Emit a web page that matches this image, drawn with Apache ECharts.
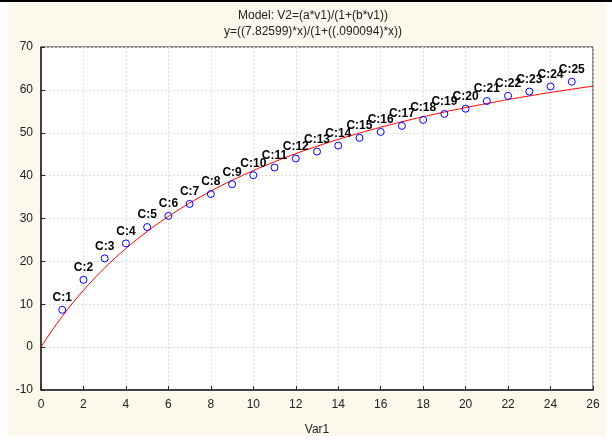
<!DOCTYPE html>
<html>
<head>
<meta charset="utf-8">
<script src="https://cdn.jsdelivr.net/npm/echarts@6/dist/echarts.min.js"></script>
<style>
html,body{margin:0;padding:0;background:#ffffff;}
#chart{width:612px;height:441px;}
</style>
</head>
<body>
<div id="chart"></div>
<script>
// Observed data (Var1, V2)
var xValues = [1,2,3,4,5,6,7,8,9,10,11,12,13,14,15,16,17,18,19,20,21,22,23,24,25];
var yValues = [8.7,15.7,20.7,24.2,28.0,30.6,33.4,35.7,38.0,40.1,41.9,44.0,45.6,47.0,48.8,50.2,51.6,53.0,54.4,55.6,57.4,58.6,59.6,60.8,61.9];
var pointLabels = ['C:1','C:2','C:3','C:4','C:5','C:6','C:7','C:8','C:9','C:10','C:11','C:12','C:13','C:14','C:15','C:16','C:17','C:18','C:19','C:20','C:21','C:22','C:23','C:24','C:25'];
// Fitted model parameters from the chart title
var paramA = 7.82599;
var paramB = 0.090094;
var titleLines = ['Model: V2=(a*v1)/(1+(b*v1))', 'y=((7.82599)*x)/(1+((.090094)*x))'];

var scatterData = xValues.map(function(x, i){ return [x, yValues[i], pointLabels[i]]; });
var curveData = [];
for (var k = 0; k <= 104; k++) {
  var xv = k * 0.25;
  curveData.push([xv, paramA * xv / (1 + paramB * xv)]);
}

var chart = echarts.init(document.getElementById('chart'), null, {renderer:'canvas'});
var FONT = '"Liberation Sans", Arial, sans-serif';
chart.setOption({
  animation: false,
  backgroundColor: '#ffffff',
  graphic: [
    {type:'rect', shape:{x:8, y:3, width:598, height:433}, style:{fill:'#fdf8ec'}, z:-10, silent:true},
    {type:'rect', shape:{x:0, y:0, width:612, height:2}, style:{fill:'#000000'}, z:-9, silent:true}
  ],
  title: {
    text: titleLines.join('\n'),
    left: 308, top: 3, textAlign: 'center',
    textStyle: {fontFamily: FONT, fontSize: 12, fontWeight: 'normal', color: '#222', lineHeight: 16}
  },
  grid: {left: 41, right: 19, top: 47, bottom: 49, show: true, backgroundColor: '#ffffff', borderColor: '#222', borderWidth: 1},
  xAxis: {
    type: 'value', min: 0, max: 26, interval: 2,
    name: 'Var1', nameLocation: 'middle', nameGap: 34,
    nameTextStyle: {fontFamily: FONT, fontSize: 12, color: '#222'},
    axisLine: {onZero: false, lineStyle: {color: '#222', width: 1.5}},
    axisTick: {inside: true, length: 4, lineStyle: {color: '#222'}},
    axisLabel: {fontFamily: FONT, fontSize: 12, color: '#222', margin: 9},
    splitLine: {show: true, lineStyle: {color: '#dcdcdc', type: [2,2], width: 1}}
  },
  yAxis: {
    type: 'value', min: -10, max: 70, interval: 10,
    axisLine: {show: true, onZero: false, lineStyle: {color: '#222', width: 1.5}},
    axisTick: {show: true, inside: true, length: 4, lineStyle: {color: '#222'}},
    axisLabel: {fontFamily: FONT, fontSize: 12, color: '#222', margin: 8},
    splitLine: {show: true, lineStyle: {color: '#dcdcdc', type: [2,2], width: 1}}
  },
  series: [
    {
      type: 'line', data: curveData, showSymbol: false, smooth: false,
      lineStyle: {color: '#ff0000', width: 1}, z: 2, silent: true
    },
    {
      type: 'scatter', data: scatterData, symbol: 'circle', symbolSize: 7,
      itemStyle: {color: 'rgba(255,255,255,0)', borderColor: '#0000ff', borderWidth: 1, opacity: 1},
      label: {
        show: true, position: 'top', distance: 2,
        formatter: function(p){ return p.data[2]; },
        fontFamily: FONT, fontSize: 12, fontWeight: 'bold', color: '#000',
        textBorderWidth: 0
      },
      z: 3
    }
  ]
});
</script>
</body>
</html>
